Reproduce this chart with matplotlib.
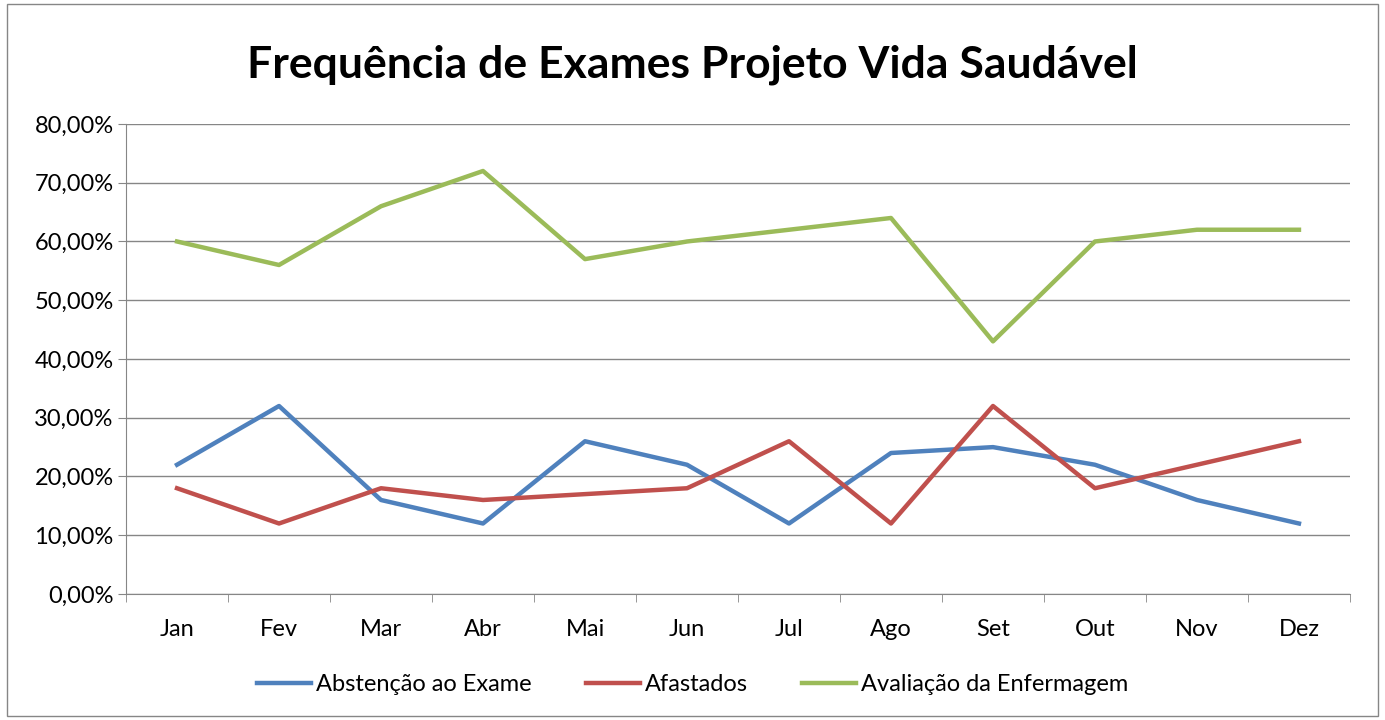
import matplotlib.pyplot as plt
from matplotlib.ticker import FuncFormatter, FixedLocator
from matplotlib.patches import Rectangle

plt.rcParams['font.family'] = ['Lato', 'DejaVu Sans']

meses = ['Jan', 'Fev', 'Mar', 'Abr', 'Mai', 'Jun', 'Jul', 'Ago', 'Set', 'Out', 'Nov', 'Dez']
abstencao = [22, 32, 16, 12, 26, 22, 12, 24, 25, 22, 16, 12]
afastados = [18, 12, 18, 16, 17, 18, 26, 12, 32, 18, 22, 26]
avaliacao = [60, 56, 66, 72, 57, 60, 62, 64, 43, 60, 62, 62]

fig = plt.figure(figsize=(13.85, 7.2), dpi=100)
ax = fig.add_axes([0.091, 0.175, 0.8837, 0.6528])

x = range(len(meses))
ax.plot(x, abstencao, color='#4F81BD', lw=3.2, label='Abstenção ao Exame')
ax.plot(x, afastados, color='#C0504D', lw=3.2, label='Afastados')
ax.plot(x, avaliacao, color='#9BBB59', lw=3.2, label='Avaliação da Enfermagem')

ax.set_xlim(-0.5, len(meses) - 0.5)
ax.set_ylim(0, 80)
ax.set_yticks(range(0, 81, 10))
ax.yaxis.set_major_formatter(FuncFormatter(lambda v, p: f'{v:.2f}%'.replace('.', ',')))
ax.set_xticks(list(x))
ax.set_xticklabels(meses)
ax.xaxis.set_minor_locator(FixedLocator([i - 0.5 for i in range(len(meses) + 1)]))
ax.tick_params(axis='x', which='major', length=0, pad=18, labelsize=17)
ax.tick_params(axis='x', which='minor', length=6, color='#868686', direction='out')
ax.tick_params(axis='y', length=6, color='#868686', labelsize=17, pad=3)

ax.grid(axis='y', color='#868686', lw=1)
ax.set_axisbelow(True)
for s in ['top', 'right']:
    ax.spines[s].set_visible(False)
for s in ['left', 'bottom']:
    ax.spines[s].set_color('#868686')
    ax.spines[s].set_zorder(0.5)

fig.text(0.5, 0.91, 'Frequência de Exames Projeto Vida Saudável', ha='center', va='center',
         fontsize=32, fontweight='bold')

fig.legend(loc='center', bbox_to_anchor=(0.5, 0.049), ncol=3, frameon=False,
           fontsize=17, handlelength=2.3, columnspacing=2.3, handletextpad=0.2)

fig.patches.append(Rectangle((0.005, 0.005), 0.99, 0.99, transform=fig.transFigure,
                             fill=False, edgecolor='#868686', lw=1))

fig.savefig('out.png', dpi=100)
